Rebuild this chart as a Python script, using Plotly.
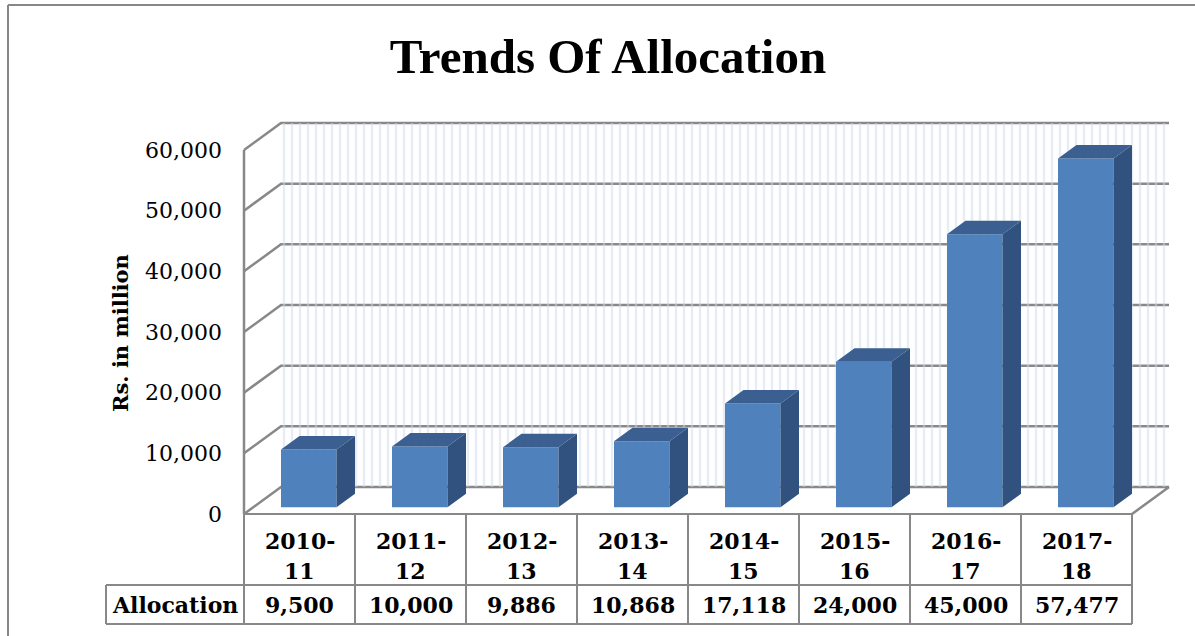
import plotly.graph_objects as go

# ---------------- data ----------------
categories = ["2010-11", "2011-12", "2012-13", "2013-14", "2014-15", "2015-16", "2016-17", "2017-18"]
allocation = [9500, 10000, 9886, 10868, 17118, 24000, 45000, 57477]
y_ticks = [0, 10000, 20000, 30000, 40000, 50000, 60000]
y_tick_labels = [f"{v:,}" for v in y_ticks]
value_labels = [f"{v:,}" for v in allocation]
row_label = "Allocation"
chart_title = "Trends Of Allocation"
y_title = "Rs. in million"

# ---------------- geometry helpers (pixel layout -> axis units) ----------------
W, H = 1195, 636
CAT_PX = 111.0          # width of one category cell
CAT0_PX = 299.5         # centre of first category cell
ZERO_PX = 514.0         # front floor line
UNIT_PX = 364.0 / 60000 # pixels per value unit


def xd(px):
    return (px - CAT0_PX) / CAT_PX


def yd(py):
    return (ZERO_PX - py) / UNIT_PX


def xp(px):
    return px / W


def yp(py):
    return 1 - py / H


n = len(categories)
DX = 37 / CAT_PX          # depth offset (x units)
DY = 27 / UNIT_PX         # depth offset (value units)
ymax = y_ticks[-1]
left, right = -0.5, n - 0.5
F0, F1 = 0.25, 0.75       # bar depth span
BW = 0.5                  # bar width

GRID = "#888888"
FRONT = "#4F81BD"
SIDE = "#31527E"
TOP = "#3A5F90"
SERIF = "Liberation Serif"
BODY = "DejaVu Serif"

fig = go.Figure()

# back wall (textured)
fig.add_trace(go.Bar(
    x=[(left + right) / 2 + DX], y=[ymax], base=[DY], width=[right - left],
    marker=dict(color="#D2DCEB", line_width=0,
                pattern=dict(shape="|", size=8, solidity=0.3,
                             fgcolor="#D2DCEB", bgcolor="rgba(255,255,255,0)")),
    hoverinfo="skip", showlegend=False))

# front faces of the columns
xs = [i + F0 * DX for i in range(n)]
base0 = F0 * DY
fig.add_trace(go.Bar(
    x=xs, y=allocation, base=[base0] * n, width=BW,
    marker=dict(color=FRONT, line_width=0),
    hovertext=[f"{c}: {v:,}" for c, v in zip(categories, allocation)],
    hoverinfo="text", showlegend=False))

# side and top faces
d = F1 - F0
sx, sy, tx, ty = [], [], [], []
for i, v in enumerate(allocation):
    xl = xs[i] - BW / 2
    xr = xs[i] + BW / 2
    sx += [xr, xr + d * DX, xr + d * DX, xr, xr, None]
    sy += [base0, base0 + d * DY, base0 + v + d * DY, base0 + v, base0, None]
    tx += [xl, xl + d * DX, xr + d * DX, xr, xl, None]
    ty += [base0 + v, base0 + v + d * DY, base0 + v + d * DY, base0 + v, base0 + v, None]

fig.add_trace(go.Scatter(x=sx, y=sy, mode="lines", fill="toself", fillcolor=SIDE,
                         line=dict(width=0, color=SIDE), hoverinfo="skip", showlegend=False))
fig.add_trace(go.Scatter(x=tx, y=ty, mode="lines", fill="toself", fillcolor=TOP,
                         line=dict(width=0, color=TOP), hoverinfo="skip", showlegend=False))

# dummy trace to carry the visible value axis
fig.add_trace(go.Scatter(x=[0], y=[0], yaxis="y2", mode="markers", marker=dict(opacity=0),
                         hoverinfo="skip", showlegend=False))

shapes = []
# gridlines (left wall diagonal + back wall horizontal)
for v in y_ticks:
    shapes.append(dict(type="path", xref="x", yref="y", layer="below",
                       path=f"M {left},{v} L {left + DX},{v + DY} L {right + DX},{v + DY}",
                       line=dict(color=GRID, width=2.5)))
# front-left vertical edge
shapes.append(dict(type="line", xref="x", yref="y", layer="below",
                   x0=left, y0=0, x1=left, y1=ymax, line=dict(color=GRID, width=2.5)))
# floor right edge
shapes.append(dict(type="line", xref="x", yref="y", layer="below",
                   x0=right, y0=0, x1=right + DX, y1=DY, line=dict(color=GRID, width=2.5)))

# data table
row1 = yd(585)
row2 = yd(624)
tab_left = xd(106)
tl = dict(color=GRID, width=2)
shapes.append(dict(type="line", xref="x", yref="y", x0=left, y0=0, x1=right, y1=0, line=tl))
shapes.append(dict(type="line", xref="x", yref="y", x0=tab_left, y0=row1, x1=right, y1=row1, line=tl))
shapes.append(dict(type="line", xref="x", yref="y", x0=tab_left, y0=row2, x1=right, y1=row2, line=tl))
shapes.append(dict(type="line", xref="x", yref="y", x0=tab_left, y0=row1, x1=tab_left, y1=row2, line=tl))
for k in range(n + 1):
    shapes.append(dict(type="line", xref="x", yref="y", x0=left + k, y0=0, x1=left + k, y1=row2, line=tl))

# outer chart frame
frame = dict(color="#878787", width=2)
shapes.append(dict(type="line", xref="paper", yref="paper", x0=xp(8), y0=0, x1=xp(8), y1=yp(5), line=frame))
shapes.append(dict(type="line", xref="paper", yref="paper", x0=xp(8), y0=yp(5), x1=1, y1=yp(5), line=frame))

annotations = []
tab_font = dict(family=BODY, size=22, color="black")
for i, c in enumerate(categories):
    a, b = c.split("-")
    annotations.append(dict(x=i, y=yd(541), xref="x", yref="y", text=f"<b>{a}-</b>",
                            showarrow=False, font=tab_font, xanchor="center", yanchor="middle"))
    annotations.append(dict(x=i, y=yd(571), xref="x", yref="y", text=f"<b>{b}</b>",
                            showarrow=False, font=tab_font, xanchor="center", yanchor="middle"))
    annotations.append(dict(x=i, y=yd(605), xref="x", yref="y", text=f"<b>{value_labels[i]}</b>",
                            showarrow=False, font=tab_font, xanchor="center", yanchor="middle"))
annotations.append(dict(x=(tab_left + left) / 2, y=yd(605), xref="x", yref="y",
                        text=f"<b>{row_label}</b>", showarrow=False, font=tab_font,
                        xanchor="center", yanchor="middle"))
annotations.append(dict(x=xp(120), y=yp(333), xref="paper", yref="paper", text=f"<b>{y_title}</b>",
                        textangle=-90, showarrow=False,
                        font=dict(family=BODY, size=21, color="black"),
                        xanchor="center", yanchor="middle"))

yr = [yd(H), yd(0)]
fig.update_layout(
    width=W, height=H, autosize=False,
    margin=dict(l=0, r=0, t=0, b=0),
    paper_bgcolor="white", plot_bgcolor="white",
    barmode="overlay",
    title=dict(text=f"<b>{chart_title}</b>", x=xp(608), y=yp(56), xanchor="center", yanchor="middle",
               xref="paper", yref="paper", font=dict(family=SERIF, size=49, color="black")),
    xaxis=dict(range=[xd(0), xd(W)], visible=False, fixedrange=True),
    yaxis=dict(range=yr, visible=False, fixedrange=True),
    yaxis2=dict(range=yr, overlaying="y", anchor="free", position=xp(244), side="left",
                tickmode="array", tickvals=y_ticks, ticktext=y_tick_labels,
                tickfont=dict(family=BODY, size=22, color="black"),
                showgrid=False, zeroline=False, showline=False, ticks="",
                ticklabelstandoff=22, fixedrange=True),
    shapes=shapes, annotations=annotations,
    hovermode="closest",
)

fig.write_html("out.html")
